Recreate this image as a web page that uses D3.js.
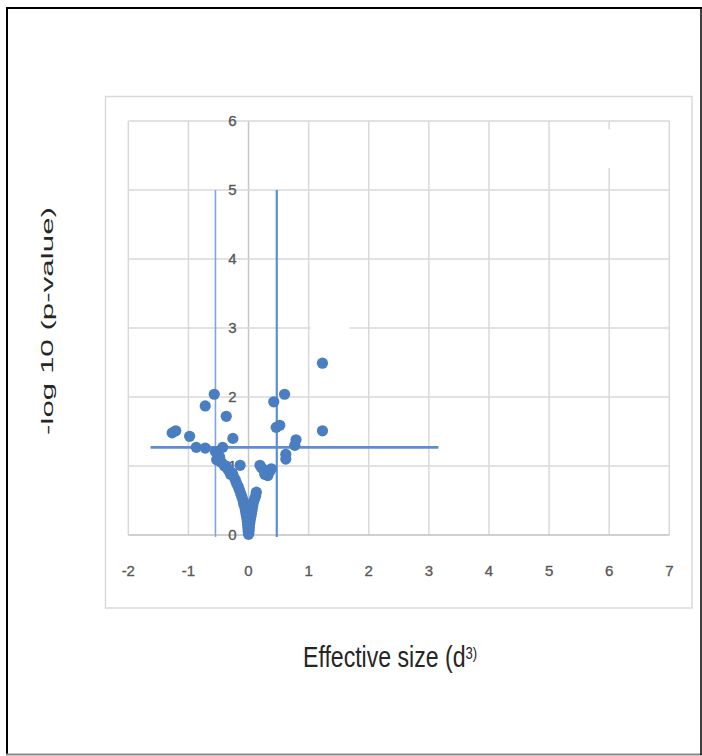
<!DOCTYPE html>
<html>
<head>
<meta charset="utf-8">
<script src="https://cdn.jsdelivr.net/npm/d3@7/dist/d3.min.js"></script>
<style>
    body { margin: 0; background: #fff; }
    svg { display: block; }
    .tickLabel { font-family: "Liberation Sans", Arial, sans-serif; font-size: 15px; fill: #595959; stroke: #595959; stroke-width: 0.35px; }
    .axisTitle { font-family: "Liberation Sans", Arial, sans-serif; fill: #262626; }
</style>
</head>
<body>
<svg id="scatterPlot" width="702" height="756"></svg>
<script>
"use strict";

const width = 702;
const height = 756;
const plotBox = { "left": 128.3, "right": 669.3, "top": 121, "bottom": 535 };
const markRadius = 5.6;

// tick values
const xTicks = [-2, -1, 0, 1, 2, 3, 4, 5, 6, 7];
const yTicks = [0, 1, 2, 3, 4, 5, 6];

// effect size (x) vs -log10 p (y)
const effectSize = [
    -1.27, -1.21, -0.98, -0.87, -0.72, -0.72, -0.57, -0.37, -0.26, -0.43, -0.55,
    -0.53, -0.48, -0.14, -0.37, -0.32, -0.27,
    0.42, 0.60, 0.46, 0.52, 1.23, 1.23, 0.79, 0.77, 0.62, 0.62,
    0.19, 0.22, 0.29, 0.35, 0.38, 0.27, 0.32,
    -0.45, -0.40, -0.34, -0.30, -0.25, -0.22, -0.20, -0.17, -0.15, -0.13, -0.11,
    -0.09, -0.08, -0.06, -0.05, -0.04, -0.03, -0.02, -0.015, -0.01, -0.005, 0,
    0.13, 0.12, 0.10, 0.08, 0.07, 0.06, 0.05, 0.04, 0.03, 0.02, 0.015, 0.01, 0.005
];
const negLogP = [
    1.48, 1.51, 1.43, 1.27, 1.26, 1.87, 2.04, 1.72, 1.40, 1.27, 1.21,
    1.09, 1.13, 1.01, 1.00, 0.93, 0.90,
    1.93, 2.04, 1.56, 1.59, 2.49, 1.51, 1.38, 1.30, 1.17, 1.10,
    1.01, 0.97, 0.93, 0.92, 0.96, 0.88, 0.86,
    1.05, 1.00, 0.95, 0.88, 0.85, 0.80, 0.75, 0.70, 0.65, 0.60, 0.55,
    0.50, 0.45, 0.40, 0.35, 0.30, 0.25, 0.20, 0.15, 0.10, 0.05, 0.01,
    0.62, 0.57, 0.52, 0.47, 0.42, 0.37, 0.32, 0.27, 0.22, 0.17, 0.12, 0.07, 0.03
];

// threshold lines
const cutoffX = [-0.55, 0.47];
const cutoffTop = 5;
const cutoffY = 1.27;
const cutoffYRange = [-1.63, 3.16];

const xScale = d3.scaleLinear().domain([-2, 7]).range([plotBox.left, plotBox.right]);
const yScale = d3.scaleLinear().domain([0, 6]).range([plotBox.bottom, plotBox.top]);

const svg = d3.select("svg#scatterPlot");

function drawFrame() {
    // outer page frame
    svg.append("line").attr("x1", 6).attr("x2", 702).attr("y1", 8).attr("y2", 8)
        .attr("stroke", "#000").attr("stroke-width", 2);
    svg.append("line").attr("x1", 7).attr("x2", 7).attr("y1", 7).attr("y2", 755)
        .attr("stroke", "#000").attr("stroke-width", 2);
    svg.append("line").attr("x1", 6).attr("x2", 702).attr("y1", 754.5).attr("y2", 754.5)
        .attr("stroke", "#8a8a8a").attr("stroke-width", 2);
    svg.append("line").attr("x1", 701).attr("x2", 701).attr("y1", 7).attr("y2", 755)
        .attr("stroke", "#000").attr("stroke-width", 1.5);
    // chart area border
    svg.append("rect")
        .attr("x", 105.5).attr("y", 96.5)
        .attr("width", 586.5).attr("height", 511.5)
        .attr("fill", "none").attr("stroke", "#d9d9d9").attr("stroke-width", 1.5);
}

function drawGrid() {
    let grid = svg.append("g").attr("id", "grid");
    grid.selectAll("line.vGrid")
        .data(xTicks)
        .enter()
        .append("line")
        .attr("class", "vGrid")
        .attr("x1", d => xScale(d)).attr("x2", d => xScale(d))
        .attr("y1", yScale(6)).attr("y2", yScale(0))
        .attr("stroke", d => d === 0 ? "#c6c6c6" : "#d9d9d9")
        .attr("stroke-width", 1.5);
    grid.selectAll("line.hGrid")
        .data(yTicks)
        .enter()
        .append("line")
        .attr("class", "hGrid")
        .attr("x1", xScale(-2)).attr("x2", xScale(7))
        .attr("y1", d => yScale(d)).attr("y2", d => yScale(d))
        .attr("stroke", d => d === 0 ? "#c0c0c0" : "#d9d9d9")
        .attr("stroke-width", 1.5);

    // small white patches that break two gridlines in the picture
    grid.append("rect")
        .attr("x", xScale(6) - 3).attr("y", yScale(5.88))
        .attr("width", 6).attr("height", yScale(5.32) - yScale(5.88))
        .attr("fill", "#fff");
    grid.append("rect")
        .attr("x", xScale(1.03)).attr("y", yScale(3) - 3)
        .attr("width", xScale(1.68) - xScale(1.03)).attr("height", 6)
        .attr("fill", "#fff");
}

function drawTickLabels() {
    svg.append("g").selectAll("text")
        .data(yTicks)
        .enter()
        .append("text")
        .attr("class", "tickLabel")
        .attr("x", xScale(0) - 12)
        .attr("y", d => yScale(d) + 5)
        .attr("text-anchor", "end")
        .text(d => d);
    svg.append("g").selectAll("text")
        .data(xTicks)
        .enter()
        .append("text")
        .attr("class", "tickLabel")
        .attr("x", d => xScale(d))
        .attr("y", 576)
        .attr("text-anchor", "middle")
        .text(d => d);
}

function drawCutoffs() {
    let cut = svg.append("g").attr("id", "cutoffs");
    cut.selectAll("line.vCut")
        .data(cutoffX)
        .enter()
        .append("line")
        .attr("class", "vCut")
        .attr("x1", d => xScale(d)).attr("x2", d => xScale(d))
        .attr("y1", yScale(cutoffTop)).attr("y2", yScale(-0.03))
        .attr("stroke", (d, i) => i === 0 ? "#7fa6e0" : "#5b8ed6")
        .attr("stroke-width", (d, i) => i === 0 ? 1.6 : 2.2);
    cut.append("line")
        .attr("x1", xScale(cutoffYRange[0])).attr("x2", xScale(cutoffYRange[1]))
        .attr("y1", yScale(cutoffY)).attr("y2", yScale(cutoffY))
        .attr("stroke", "#5b8ed6")
        .attr("stroke-width", 2.6);
}

function drawPoints() {
    let points = effectSize.map((x, i) => ({ "x": x, "y": negLogP[i] }));
    svg.append("g").selectAll("circle.scatterPoint")
        .data(points)
        .enter()
        .append("circle")
        .attr("class", "scatterPoint")
        .attr("cx", d => xScale(d.x))
        .attr("cy", d => yScale(d.y))
        .attr("r", markRadius)
        .attr("fill", "#4a7ec1");
}

function drawTitles() {
    svg.append("text")
        .attr("class", "axisTitle")
        .attr("transform", "translate(53,321) rotate(-90)")
        .attr("text-anchor", "middle")
        .attr("font-size", 17)
        .attr("textLength", 228)
        .attr("lengthAdjust", "spacingAndGlyphs")
        .text("-log 10 (p-value)");

    let xt = svg.append("text")
        .attr("class", "axisTitle")
        .attr("transform", "translate(303,667) scale(0.77,1)")
        .attr("font-size", 30);
    xt.append("tspan").text("Effective size (d");
    xt.append("tspan").attr("font-size", 17).attr("dy", -8).text("3)");
}

drawFrame();
drawGrid();
drawTickLabels();
drawCutoffs();
drawPoints();
drawTitles();
</script>
</body>
</html>
